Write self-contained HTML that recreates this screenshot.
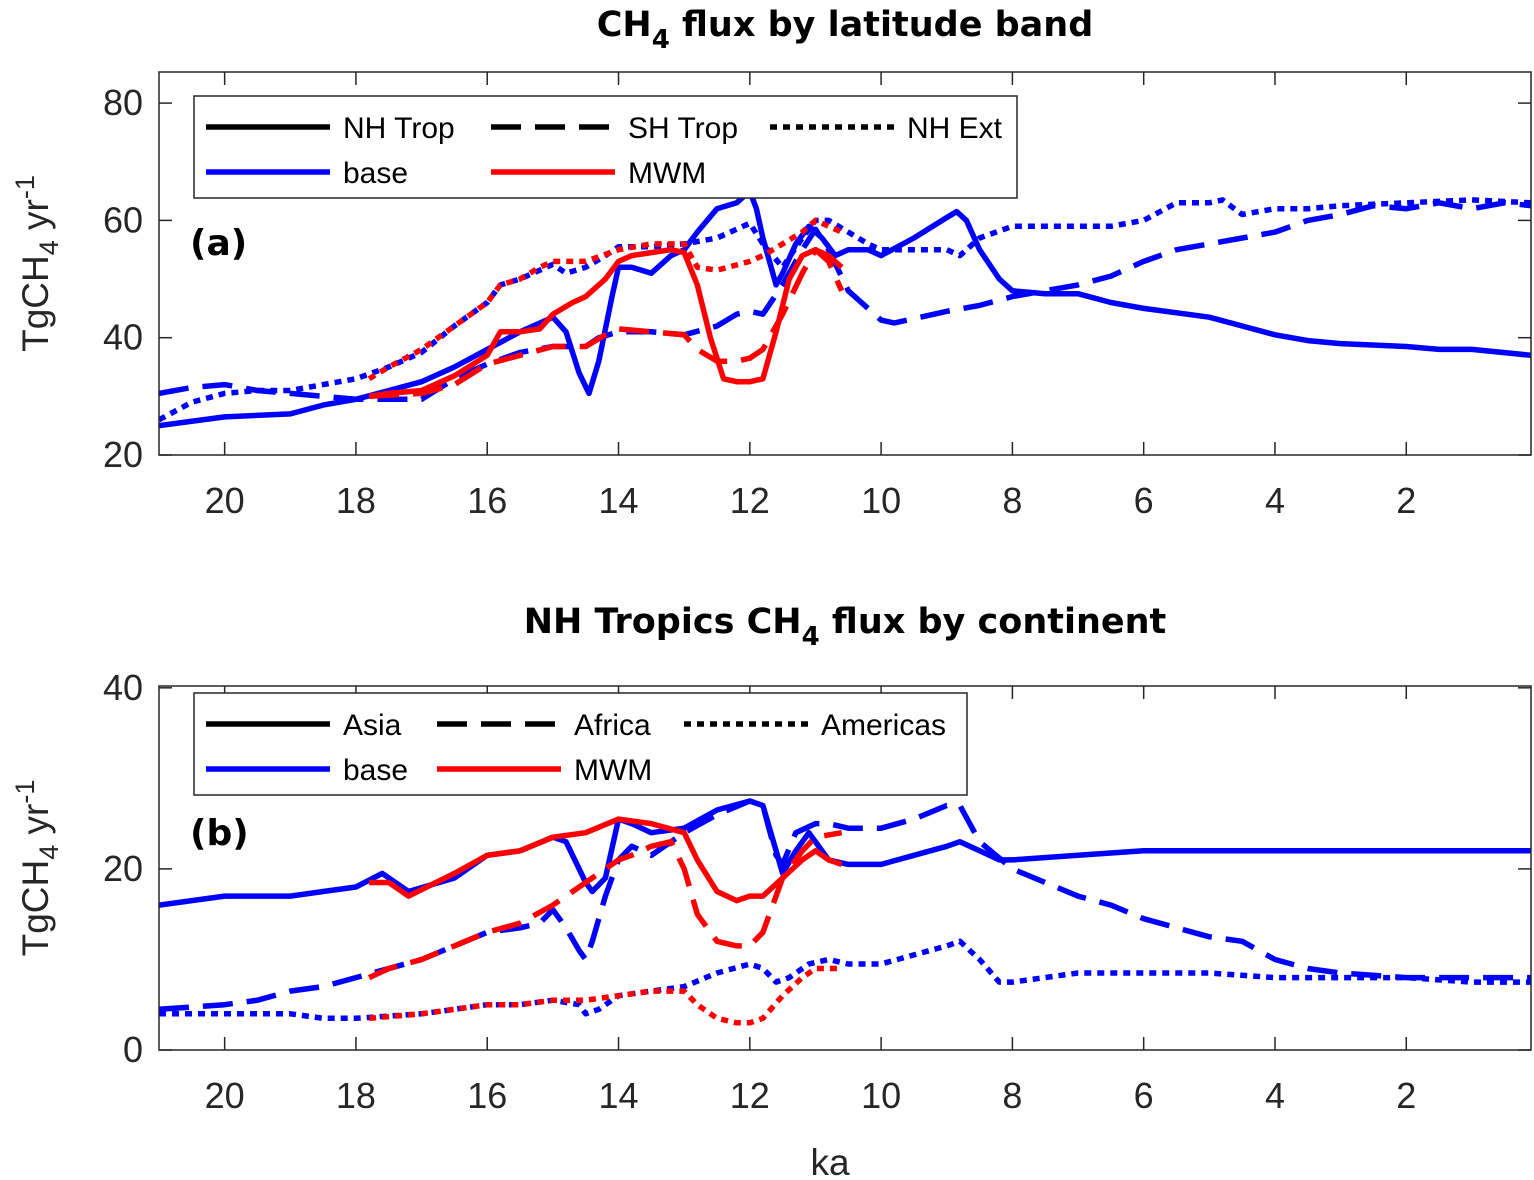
<!DOCTYPE html>
<html><head><meta charset="utf-8">
<style>
html,body{margin:0;padding:0;background:#fff;}
svg{display:block;font-family:"Liberation Sans","DejaVu Sans",sans-serif;}
</style></head>
<body>
<svg id="chart" width="1534" height="1180" viewBox="0 0 1534 1180" xmlns="http://www.w3.org/2000/svg"></svg>
<script>
// ---- data ----
const xTicks = [20,18,16,14,12,10,8,6,4,2];
const yTicksA = [20,40,60,80];
const yTicksB = [0,20,40];
// Panel a
const aBaseNHTropX = [21,20,19,18.5,18,17.5,17,16.5,16,15.5,15,14.8,14.6,14.45,14.3,14.1,14,13.8,13.5,13.2,13,12.8,12.5,12.2,12,11.9,11.8,11.6,11.5,11.3,11.1,10.9,10.7,10.5,10.2,10,9.5,9,8.85,8.7,8.5,8.2,8,7.5,7,6.5,6,5,4.5,4,3.5,3,2,1.5,1,0.1];
const aBaseNHTropY = [25,26.5,27,28.5,29.5,31,32.5,35,38,41,43.5,41,34,30.5,36,47,52,52,51,54,55,58,62,63,65,62,57,49,51,56,59,57,54,55,55,54,57,60.5,61.5,60,55,50,48,47.5,47.5,46,45,43.5,42,40.5,39.5,39,38.5,38,38,37];
const aBaseSHTropX = [21,20.5,20,19.5,19,18.5,18,17.5,17,16.5,16,15.5,15,14.5,14.3,14,13.5,13,12.5,12.2,12,11.8,11.5,11.2,11,10.8,10.5,10,9.8,9,8.5,8,7,6.5,6,5.5,5,4.5,4,3.5,3,2.5,2,1.5,1,0.5,0.1];
const aBaseSHTropY = [30.5,31.5,32,31,30.5,30,29.5,29.5,29.5,33,35.5,37.5,38.5,38.5,40,41,41,40.5,42,44,44.5,44,49,55,58.5,55,48,43,42.5,44.5,45.5,47,49,50.5,53,55,56,57,58,60,61,62.5,62,63,62,63,62.5];
const aBaseNHExtX = [21,20.5,20,19.5,19,18.5,18,17.5,17,16.5,16,15.8,15.5,15.2,15,14.8,14.5,14.2,14,13.5,13,12.5,12,11.8,11.5,11.2,11,10.8,10.5,10.2,10,9.5,9,8.8,8.5,8,7,6.5,6,5.5,5,4.8,4.5,4,3.5,3,2,1,0.1];
const aBaseNHExtY = [26,29,30.5,31,31,32,33,35,37.5,42,46,49,50,51.5,52.5,51,52,54,55.5,55.5,56,57,59.5,56,52,57,60,60,58,56,55,55,55,54,57,59,59,59,60,63,63,63.5,61,62,62,62.5,63,63.5,63];
const aMwmNHTropX = [17.8,17.5,17,16.5,16,15.8,15.5,15.2,15,14.7,14.5,14.2,14,13.8,13.5,13.2,13,12.8,12.6,12.4,12.2,12,11.8,11.6,11.4,11.2,11,10.8,10.6];
const aMwmNHTropY = [30,30.5,31,33.5,37,41,41,41.5,44,46,47,50,53,54,54.5,55,54.5,49,40,33,32.5,32.5,33,41,50,54,55,54,52];
const aMwmSHTropX = [17.8,17,16.5,16,15.5,15,14.5,14.2,14,13.5,13,12.8,12.5,12.2,12,11.8,11.5,11.2,11,10.8,10.6];
const aMwmSHTropY = [30,30.5,32,35.5,37,38.5,38.5,40.5,41.5,41,40.5,38,36,36,36.5,38,44,51,55,53,48];
const aMwmNHExtX = [17.8,17.5,17,16.5,16,15.8,15.5,15.2,15,14.5,14,13.5,13,12.8,12.5,12,11.8,11.5,11.2,11,10.8,10.6];
const aMwmNHExtY = [33,35,38,42,46,49,50,52,53,53,55,56,56,52,51.5,53,54,56,58,60,59,58];
// Panel b
const bBaseAsiaX = [21,20,19.5,19,18.5,18,17.6,17.2,16.5,16,15.5,15,14.8,14.5,14.4,14.2,14,13.8,13.5,13,12.5,12,11.8,11.6,11.5,11.3,11.1,10.8,10.5,10,9.5,9,8.8,8.5,8.2,8,7,6,4,2,0.1];
const bBaseAsiaY = [16,17,17,17,17.5,18,19.5,17.5,19,21.5,22,23.5,23,18.5,17.5,19,25.5,25,24,24.5,26.5,27.5,27,22,19.5,22,24,21,20.5,20.5,21.5,22.5,23,22,21,21,21.5,22,22,22,22];
const bBaseAfricaX = [21,20,19.5,19,18.5,18,17.5,17,16.5,16,15.5,15.2,15,14.8,14.6,14.5,14.4,14.2,14,13.8,13.5,13,12.5,12,11.8,11.6,11.5,11.3,11,10.8,10.5,10,9.5,9,8.8,8.5,8,7.5,7,6.5,6,5,4.5,4,3.5,3,2,1,0.1];
const bBaseAfricaY = [4.5,5,5.5,6.5,7,8,9,10,11.5,13,13.5,14,15.5,13.5,11,10,12,17,21,22.5,21.5,24,26,27.5,27,21.5,20.5,24,25,25,24.5,24.5,25.5,27,27,23,20,18.5,17,16,14.5,12.5,12,10,9,8.5,8,8,8];
const bBaseAmerX = [21,20,19,18.5,18,17,16.5,16,15.5,15,14.6,14.5,14.3,14,13.5,13,12.5,12,11.8,11.6,11.4,11.1,10.8,10.5,10,9.5,9,8.8,8.5,8.2,8,7,6,5,4,3,2,1,0.1];
const bBaseAmerY = [4,4,4,3.5,3.5,4,4.5,5,5,5.5,5,4,4.5,6,6.5,7,8.5,9.5,9,7.5,8,9.5,10,9.5,9.5,10.5,11.5,12,10,7.5,7.5,8.5,8.5,8.5,8,8,8,7.5,7.5];
const bMwmAsiaX = [17.8,17.5,17.2,16.5,16,15.5,15,14.5,14,13.5,13,12.8,12.5,12.2,12,11.8,11.5,11.2,11,10.8,10.6];
const bMwmAsiaY = [18.5,18.5,17,19.5,21.5,22,23.5,24,25.5,25,24,21,17.5,16.5,17,17,19,21,22,21,20.5];
const bMwmAfricaX = [17.8,17.5,17,16.5,16,15.5,15,14.5,14.2,14,13.8,13.5,13.2,13,12.8,12.5,12.2,12,11.8,11.5,11.2,11,10.6];
const bMwmAfricaY = [8,9,10,11.5,13,14,16,18.5,20,21,21.5,22.5,23,20,15,12,11.5,11.5,13,19,22,23.5,24];
const bMwmAmerX = [17.8,17,16.5,16,15.5,15,14.5,14,13.5,13,12.8,12.5,12.2,12,11.8,11.5,11.2,11,10.6];
const bMwmAmerY = [3.5,4,4.5,5,5,5.5,5.5,6,6.5,6.5,5,3.5,3,3,3.5,6,8,9,9];

const NS='http://www.w3.org/2000/svg';
const svg=document.getElementById('chart');
function mk(tag,attrs,parent){const e=document.createElementNS(NS,tag);for(const k in attrs)e.setAttribute(k,attrs[k]);(parent||svg).appendChild(e);return e;}
const L=159,R=1531;
const xS=v=>L+(21-v)/(21-0.1)*(R-L);
const BLUE='#0000ff',RED='#ff0000';
const DASH={solid:'',dash:'30,14',dot:'7,6'};

function panel(p){
  const yS=v=>p.bot-(v-p.y0)/(p.y1-p.y0)*(p.bot-p.top);
  const g=mk('g',{});
  
  
  const cp='clip'+p.id;
  const cl=mk('clipPath',{id:cp},g);mk('rect',{x:L,y:p.top,width:R-L,height:p.bot-p.top},cl);
  const lines=mk('g',{'clip-path':'url(#'+cp+')'},g);
  p.series.forEach(s=>{
    const d=s.x.map((x,i)=>(i?'L':'M')+xS(x).toFixed(1)+','+yS(s.y[i]).toFixed(1)).join('');
    const pa=mk('path',{d:d,fill:'none',stroke:s.c,'stroke-width':5.5,'stroke-dasharray':DASH[s.st],'stroke-linejoin':'round'},lines);
    
    
  });
  mk('rect',{x:L,y:p.top,width:R-L,height:p.bot-p.top,fill:'none',stroke:'#262626','stroke-width':1.5},g);
  xTicks.forEach(t=>{
    const x=xS(t);
    mk('line',{x1:x,x2:x,y1:p.bot,y2:p.bot-13,stroke:'#262626','stroke-width':1.5},g);
    mk('line',{x1:x,x2:x,y1:p.top,y2:p.top+13,stroke:'#262626','stroke-width':1.5},g);
    const tx=mk('text',{x:x,y:p.bot+58,'text-anchor':'middle','font-size':36,fill:'#262626'},g);tx.textContent=t;
    
    
  });
  p.yt.forEach(t=>{
    const y=yS(t);
    mk('line',{x1:L,x2:L+13,y1:y,y2:y,stroke:'#262626','stroke-width':1.5},g);
    mk('line',{x1:R,x2:R-13,y1:y,y2:y,stroke:'#262626','stroke-width':1.5},g);
    const tx=mk('text',{x:L-16,y:y+12,'text-anchor':'end','font-size':36,fill:'#262626'},g);tx.textContent=t;
    
    
  });
  const yl=mk('text',{transform:'translate(48,'+((p.top+p.bot)/2)+') rotate(-90)','text-anchor':'middle','font-size':37,fill:'#262626'},g);
  yl.innerHTML='TgCH<tspan font-size="27" dy="10">4</tspan><tspan dy="-10"> yr</tspan><tspan font-size="27" dy="-14">-1</tspan>';
  
  
  const ti=mk('text',{x:845,y:p.ty,'text-anchor':'middle','font-size':35,'font-weight':'bold',fill:'#000','font-family':'DejaVu Sans, sans-serif'},g);
  ti.innerHTML=p.title;
  
  
  const lab=mk('text',{x:190,y:p.laby,'font-size':36,'font-weight':'bold',fill:'#000','font-family':'DejaVu Sans, sans-serif'},g);lab.textContent=p.lab;
  
  
  // legend
  const lg=mk('g',{},g);
  
  
  mk('rect',{x:194,y:p.lgy,width:p.lgw,height:102,fill:'#fff',stroke:'#262626','stroke-width':1.5},lg);
  p.leg.forEach(e=>{
    const ly=p.lgy+e.r*45+31;
    const ln=mk('line',{x1:e.x,x2:e.x+124,y1:ly,y2:ly,stroke:e.c,'stroke-width':5.5,'stroke-dasharray':DASH[e.st]},lg);
    
    
    const t=mk('text',{x:e.x+137,y:ly+11,'font-size':30,fill:'#000'},lg);t.textContent=e.t;
    
    
  });
}

panel({id:'a',name:'panel-a',top:72,bot:455,y0:20,y1:85.3,yt:yTicksA,ty:36,laby:255,lab:'(a)',
  title:'CH<tspan font-size="26" dy="12">4</tspan><tspan dy="-12"> flux by latitude band</tspan>',
  lgy:96,lgw:823,
  leg:[{x:206,r:0,c:'#000',st:'solid',t:'NH Trop'},{x:491,r:0,c:'#000',st:'dash',t:'SH Trop'},{x:770,r:0,c:'#000',st:'dot',t:'NH Ext'},
       {x:206,r:1,c:BLUE,st:'solid',t:'base'},{x:491,r:1,c:RED,st:'solid',t:'MWM'}],
  series:[
   {n:'base-nh-trop',x:aBaseNHTropX,y:aBaseNHTropY,c:BLUE,st:'solid'},
   {n:'base-sh-trop',x:aBaseSHTropX,y:aBaseSHTropY,c:BLUE,st:'dash'},
   {n:'base-nh-ext',x:aBaseNHExtX,y:aBaseNHExtY,c:BLUE,st:'dot'},
   {n:'mwm-nh-trop',x:aMwmNHTropX,y:aMwmNHTropY,c:RED,st:'solid'},
   {n:'mwm-sh-trop',x:aMwmSHTropX,y:aMwmSHTropY,c:RED,st:'dash'},
   {n:'mwm-nh-ext',x:aMwmNHExtX,y:aMwmNHExtY,c:RED,st:'dot'}]});

panel({id:'b',name:'panel-b',top:686,bot:1050,y0:0,y1:40.2,yt:yTicksB,ty:633,laby:845,lab:'(b)',
  title:'NH Tropics CH<tspan font-size="26" dy="12">4</tspan><tspan dy="-12"> flux by continent</tspan>',
  lgy:693,lgw:773,
  leg:[{x:206,r:0,c:'#000',st:'solid',t:'Asia'},{x:437,r:0,c:'#000',st:'dash',t:'Africa'},{x:684,r:0,c:'#000',st:'dot',t:'Americas'},
       {x:206,r:1,c:BLUE,st:'solid',t:'base'},{x:437,r:1,c:RED,st:'solid',t:'MWM'}],
  series:[
   {n:'base-asia',x:bBaseAsiaX,y:bBaseAsiaY,c:BLUE,st:'solid'},
   {n:'base-africa',x:bBaseAfricaX,y:bBaseAfricaY,c:BLUE,st:'dash'},
   {n:'base-americas',x:bBaseAmerX,y:bBaseAmerY,c:BLUE,st:'dot'},
   {n:'mwm-asia',x:bMwmAsiaX,y:bMwmAsiaY,c:RED,st:'solid'},
   {n:'mwm-africa',x:bMwmAfricaX,y:bMwmAfricaY,c:RED,st:'dash'},
   {n:'mwm-americas',x:bMwmAmerX,y:bMwmAmerY,c:RED,st:'dot'}]});

const xl=mk('text',{x:830,y:1175,'text-anchor':'middle','font-size':37,fill:'#262626'});
xl.textContent='ka';


</script>
</body></html>
